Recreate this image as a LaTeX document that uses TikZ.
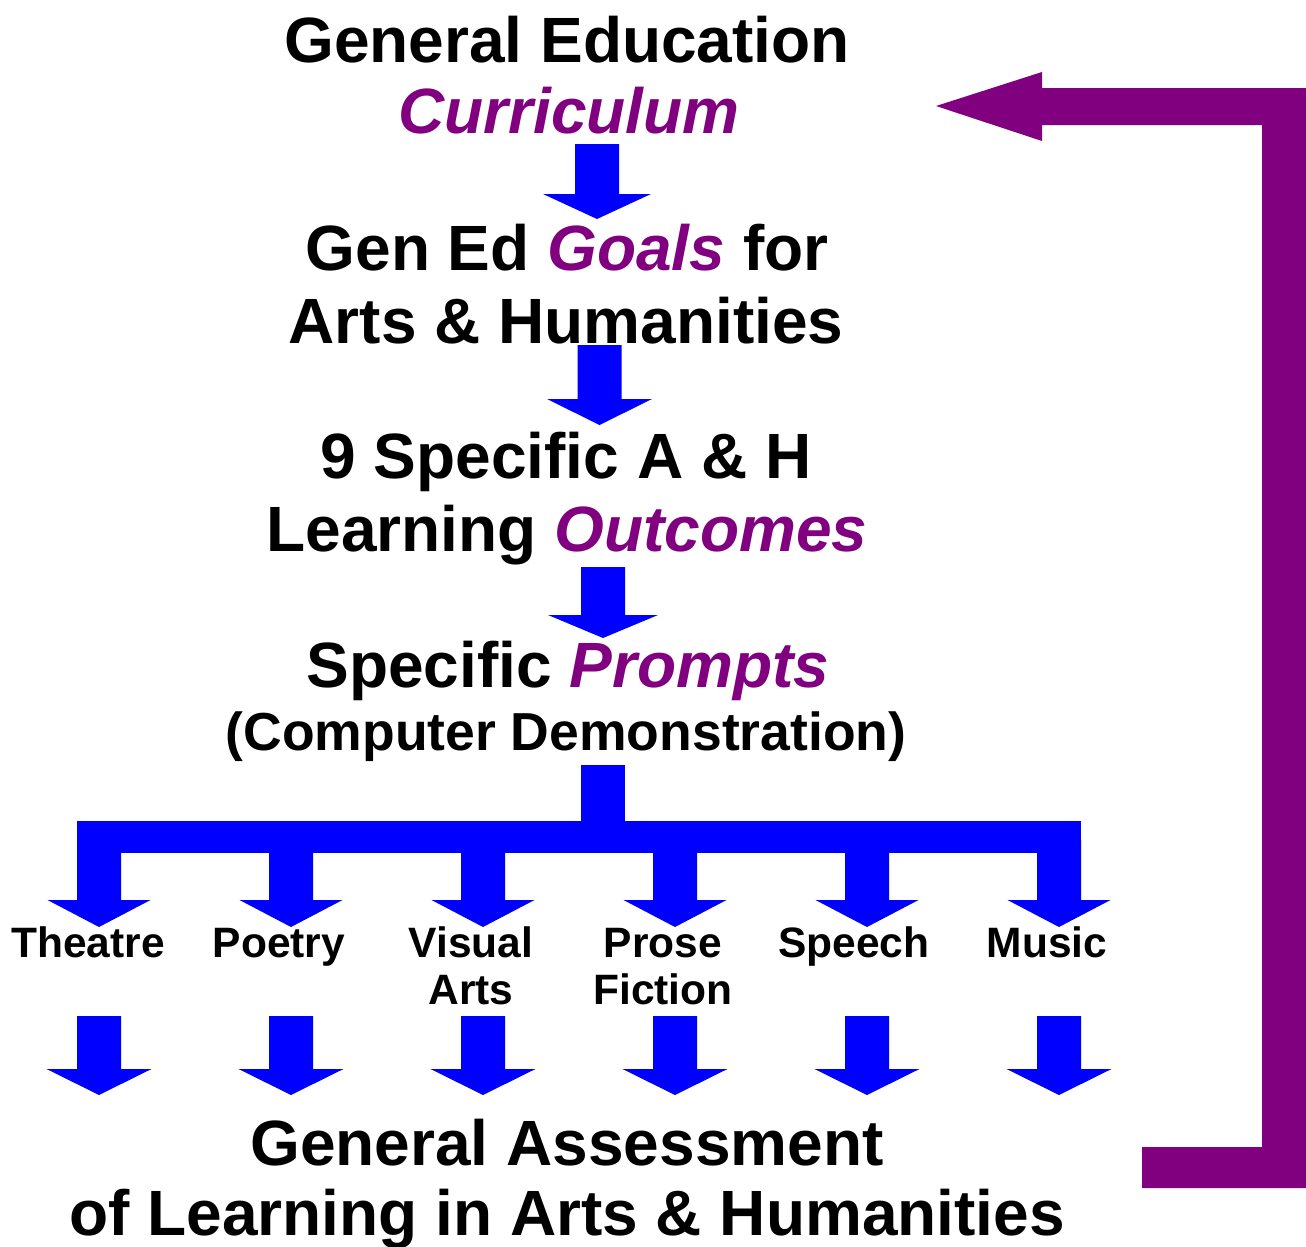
\documentclass[tikz,border=0pt]{standalone}
\usepackage{fontspec}
\setmainfont{Liberation Sans}
\definecolor{bl}{RGB}{0,0,255}
\definecolor{ppl}{RGB}{128,0,128}
\newcommand\blkarrow[5]{% center x, top y, head y, tip y, head half width
  \fill[bl] (#1-22,#2) -- (#1+22,#2) -- (#1+22,#3) -- (#1+#5,#3) -- (#1,#4) -- (#1-#5,#3) -- (#1-22,#3) -- cycle;}
\begin{document}
\begin{tikzpicture}[x=1pt,y=-1pt,
  big/.style={anchor=base,inner sep=0pt,font=\fontsize{64}{70}\selectfont\bfseries},
  mid/.style={anchor=base,inner sep=0pt,font=\fontsize{53.5}{60}\selectfont\bfseries},
  lab/.style={anchor=base,inner sep=0pt,font=\fontsize{42.5}{47}\selectfont\bfseries}]
\useasboundingbox (0,0) rectangle (1306,1247);
% text
\node[big] (t1) at (567,63) {General Education};
\node[big,text=ppl] (t2) at (569,133) {\itshape Curriculum};
\node[big] (t3) at (567,270) {Gen Ed \textcolor{ppl}{\itshape Goals} for};
\node[big] (t4) at (566,343) {Arts \& Humanities};
\node[big] (t5) at (566,478) {9 Specific A \& H};
\node[big] (t6) at (567,551) {Learning \textcolor{ppl}{\itshape Outcomes}};
\node[big] (t7) at (568,687) {Specific \textcolor{ppl}{\itshape Prompts}};
\node[mid] (t8) at (566,750) {(Computer Demonstration)};
\node[big] (t9) at (567,1165) {General Assessment};
\node[big] (t10) at (567,1235) {of Learning in Arts \& Humanities};
% labels
\node[lab] (l1) at (88,957) {Theatre};
\node[lab] (l2) at (279,957) {Poetry};
\node[lab] (l3a) at (471,957) {Visual};
\node[lab] (l3b) at (471,1004) {Arts};
\node[lab] (l4a) at (663,957) {Prose};
\node[lab] (l4b) at (663,1004) {Fiction};
\node[lab] (l5) at (854,957) {Speech};
\node[lab] (l6) at (1047,957) {Music};
% vertical block arrows
\blkarrow{597}{144}{194}{219}{54}
\blkarrow{599.5}{345}{399}{425}{52.5}
\blkarrow{603}{567}{615}{638}{55}
% bracket
\fill[bl] (581,765) rectangle (625,840);
\fill[bl] (77,821) rectangle (1081,853);
\foreach \cx in {99,291,483,675,867,1059}{
  \blkarrow{\cx}{840}{900}{927}{51.5}
  \blkarrow{\cx}{1016}{1069}{1095}{52.5}
}
% purple return arrow
\fill[ppl] (936,106) -- (1042,72) -- (1042,88) -- (1306,88) -- (1306,1188)
  -- (1142,1188) -- (1142,1147) -- (1262,1147) -- (1262,125) -- (1042,125)
  -- (1042,141) -- cycle;
\end{tikzpicture}
\end{document}
